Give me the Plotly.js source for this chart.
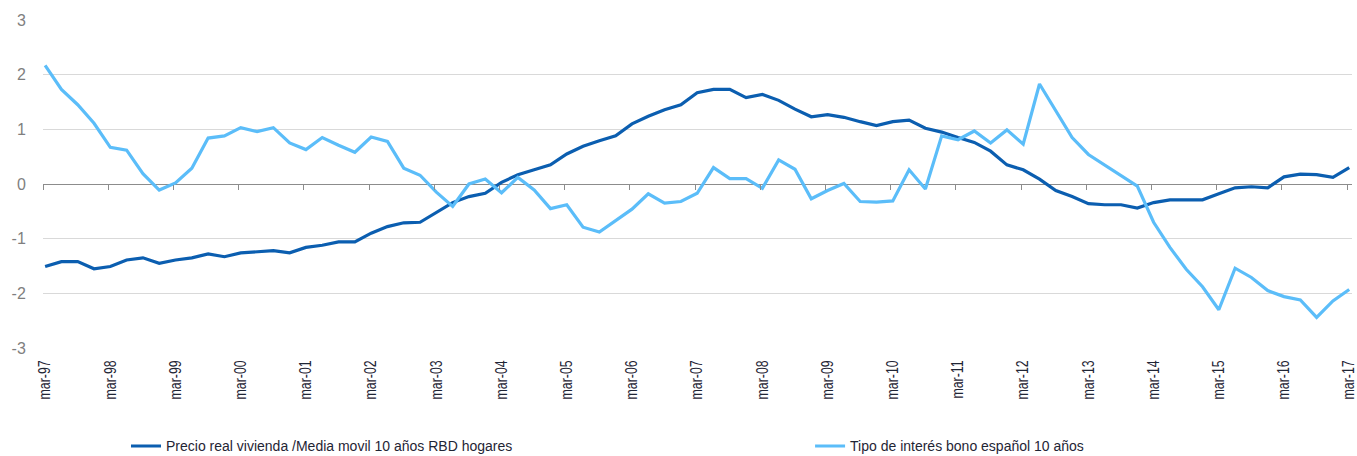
<!DOCTYPE html>
<html>
<head>
<meta charset="utf-8">
<script src="https://cdn.plot.ly/plotly-3.0.1.min.js"></script>
<style>
  html, body { margin: 0; padding: 0; background: #fff; }
  #grafico { width: 1357px; height: 456px; }
</style>
</head>
<body>
<div id="grafico"></div>
<script>
// etiquetas del eje x (una por año, datos trimestrales)
const tickLabels = ['mar-97', 'mar-98', 'mar-99', 'mar-00', 'mar-01', 'mar-02', 'mar-03',
  'mar-04', 'mar-05', 'mar-06', 'mar-07', 'mar-08', 'mar-09', 'mar-10', 'mar-11',
  'mar-12', 'mar-13', 'mar-14', 'mar-15', 'mar-16', 'mar-17'];

const yTickVals = [-3, -2, -1, 0, 1, 2, 3];
const yTickText = ['-3', '-2', '-1', '0', '1', '2', '3'];

const seriesNames = ['Precio real vivienda /Media movil 10 años RBD hogares',
  'Tipo de interés bono español 10 años'];

// Precio real vivienda / media móvil RBD (trimestral, mar-97 .. mar-17)
const precioVivienda = [
  -1.51, -1.42, -1.42, -1.55, -1.51, -1.39, -1.35, -1.45, -1.39, -1.35,
  -1.28, -1.33, -1.26, -1.24, -1.22, -1.26, -1.16, -1.12, -1.06, -1.06,
  -0.90, -0.78, -0.71, -0.70, -0.52, -0.34, -0.23, -0.17, 0.03, 0.17,
  0.26, 0.35, 0.55, 0.69, 0.79, 0.88, 1.10, 1.24, 1.36, 1.45,
  1.67, 1.73, 1.73, 1.58, 1.64, 1.53, 1.37, 1.23, 1.27, 1.22,
  1.14, 1.07, 1.14, 1.17, 1.02, 0.95, 0.85, 0.76, 0.60, 0.35,
  0.26, 0.09, -0.12, -0.23, -0.36, -0.38, -0.38, -0.44, -0.34, -0.29,
  -0.29, -0.29, -0.18, -0.07, -0.05, -0.07, 0.13, 0.18, 0.17, 0.12,
  0.30
];

// Tipo de interés bono 10 años
const tipoBono = [
  2.17, 1.73, 1.45, 1.11, 0.67, 0.62, 0.19, -0.11, 0.02, 0.29,
  0.84, 0.88, 1.03, 0.96, 1.03, 0.75, 0.63, 0.85, 0.71, 0.58,
  0.86, 0.78, 0.29, 0.16, -0.15, -0.41, 0.00, 0.09, -0.16, 0.12,
  -0.11, -0.45, -0.38, -0.79, -0.88, -0.67, -0.46, -0.18, -0.35, -0.32,
  -0.17, 0.30, 0.10, 0.10, -0.08, 0.44, 0.27, -0.27, -0.12, 0.01,
  -0.32, -0.33, -0.31, 0.26, -0.09, 0.88, 0.81, 0.97, 0.75, 0.99,
  0.73, 1.83, 1.34, 0.85, 0.54, 0.35, 0.16, -0.04, -0.70, -1.16,
  -1.56, -1.88, -2.30, -1.54, -1.71, -1.95, -2.06, -2.12, -2.44, -2.14,
  -1.93
];

const xIdx = precioVivienda.map((_, i) => i);
const tickPos = tickLabels.map((_, k) => k * 4);
const xRange = [-0.13, 80.17];

const sans = '"Liberation Sans", Arial, sans-serif';
const textColor = '#1f2535';

const trace1 = {
  x: xIdx,
  y: precioVivienda,
  mode: 'lines',
  name: seriesNames[0],
  legend: 'legend',
  line: { color: '#0b5eb0', width: 3.2 },
};

const trace2 = {
  x: xIdx,
  y: tipoBono,
  xaxis: 'x2',
  mode: 'lines',
  name: seriesNames[1],
  legend: 'legend2',
  line: { color: '#5bbdf9', width: 3.2 },
};

const legendBase = {
  orientation: 'h',
  xanchor: 'left',
  y: -0.300,
  yanchor: 'middle',
  font: { family: sans, size: 14, color: textColor },
  bgcolor: 'rgba(0,0,0,0)',
};

const layout = {
  width: 1357,
  height: 456,
  margin: { l: 43, r: 5, t: 20, b: 108, autoexpand: false },
  paper_bgcolor: '#fff',
  plot_bgcolor: '#fff',
  showlegend: true,
  xaxis: {
    range: xRange,
    tickmode: 'array',
    tickvals: tickPos,
    ticktext: tickLabels,
    tickangle: -90,
    ticks: 'outside',
    ticklen: 5,
    tickcolor: 'rgba(0,0,0,0)',
    ticklabeloverflow: 'allow',
    showgrid: false,
    zeroline: false,
    showline: false,
    tickfont: { family: sans, size: 16, color: textColor },
  },
  // eje auxiliar: marcas sobre la línea del cero
  xaxis2: {
    overlaying: 'x',
    anchor: 'free',
    position: 0.5,
    range: xRange,
    tickmode: 'array',
    tickvals: tickPos.map(v => v + xRange[0]),
    ticks: 'outside',
    ticklen: 5,
    tickcolor: '#8c8c8c',
    tickwidth: 1,
    showticklabels: false,
    showgrid: false,
    zeroline: false,
    showline: false,
  },
  yaxis: {
    range: [-3, 3],
    tickmode: 'array',
    tickvals: yTickVals,
    ticktext: yTickText,
    showgrid: true,
    gridcolor: '#d9d9d9',
    gridwidth: 1,
    zeroline: true,
    zerolinecolor: '#8c8c8c',
    zerolinewidth: 1,
    showline: false,
    ticks: 'outside',
    ticklen: 13,
    tickcolor: 'rgba(0,0,0,0)',
    tickfont: { family: sans, size: 16, color: '#7f7f7f' },
  },
  legend: Object.assign({ x: 0.0634 }, legendBase),
  legend2: Object.assign({ x: 0.586 }, legendBase),
};

// etiquetas del eje x comprimidas a lo largo (el original usa letra estrecha)
function squeezeTicks() {
  document.querySelectorAll('#grafico .xtick text').forEach(el => {
    if (el.getAttribute('textLength')) return;
    const len = el.getComputedTextLength();
    el.setAttribute('textLength', (len * 0.77).toFixed(1));
    el.setAttribute('lengthAdjust', 'spacingAndGlyphs');
  });
}

const gd = document.getElementById('grafico');
Plotly.newPlot(gd, [trace1, trace2], layout, { displayModeBar: false, staticPlot: true })
  .then(() => {
    squeezeTicks();
    gd.on('plotly_afterplot', squeezeTicks);
  });
</script>
</body>
</html>
